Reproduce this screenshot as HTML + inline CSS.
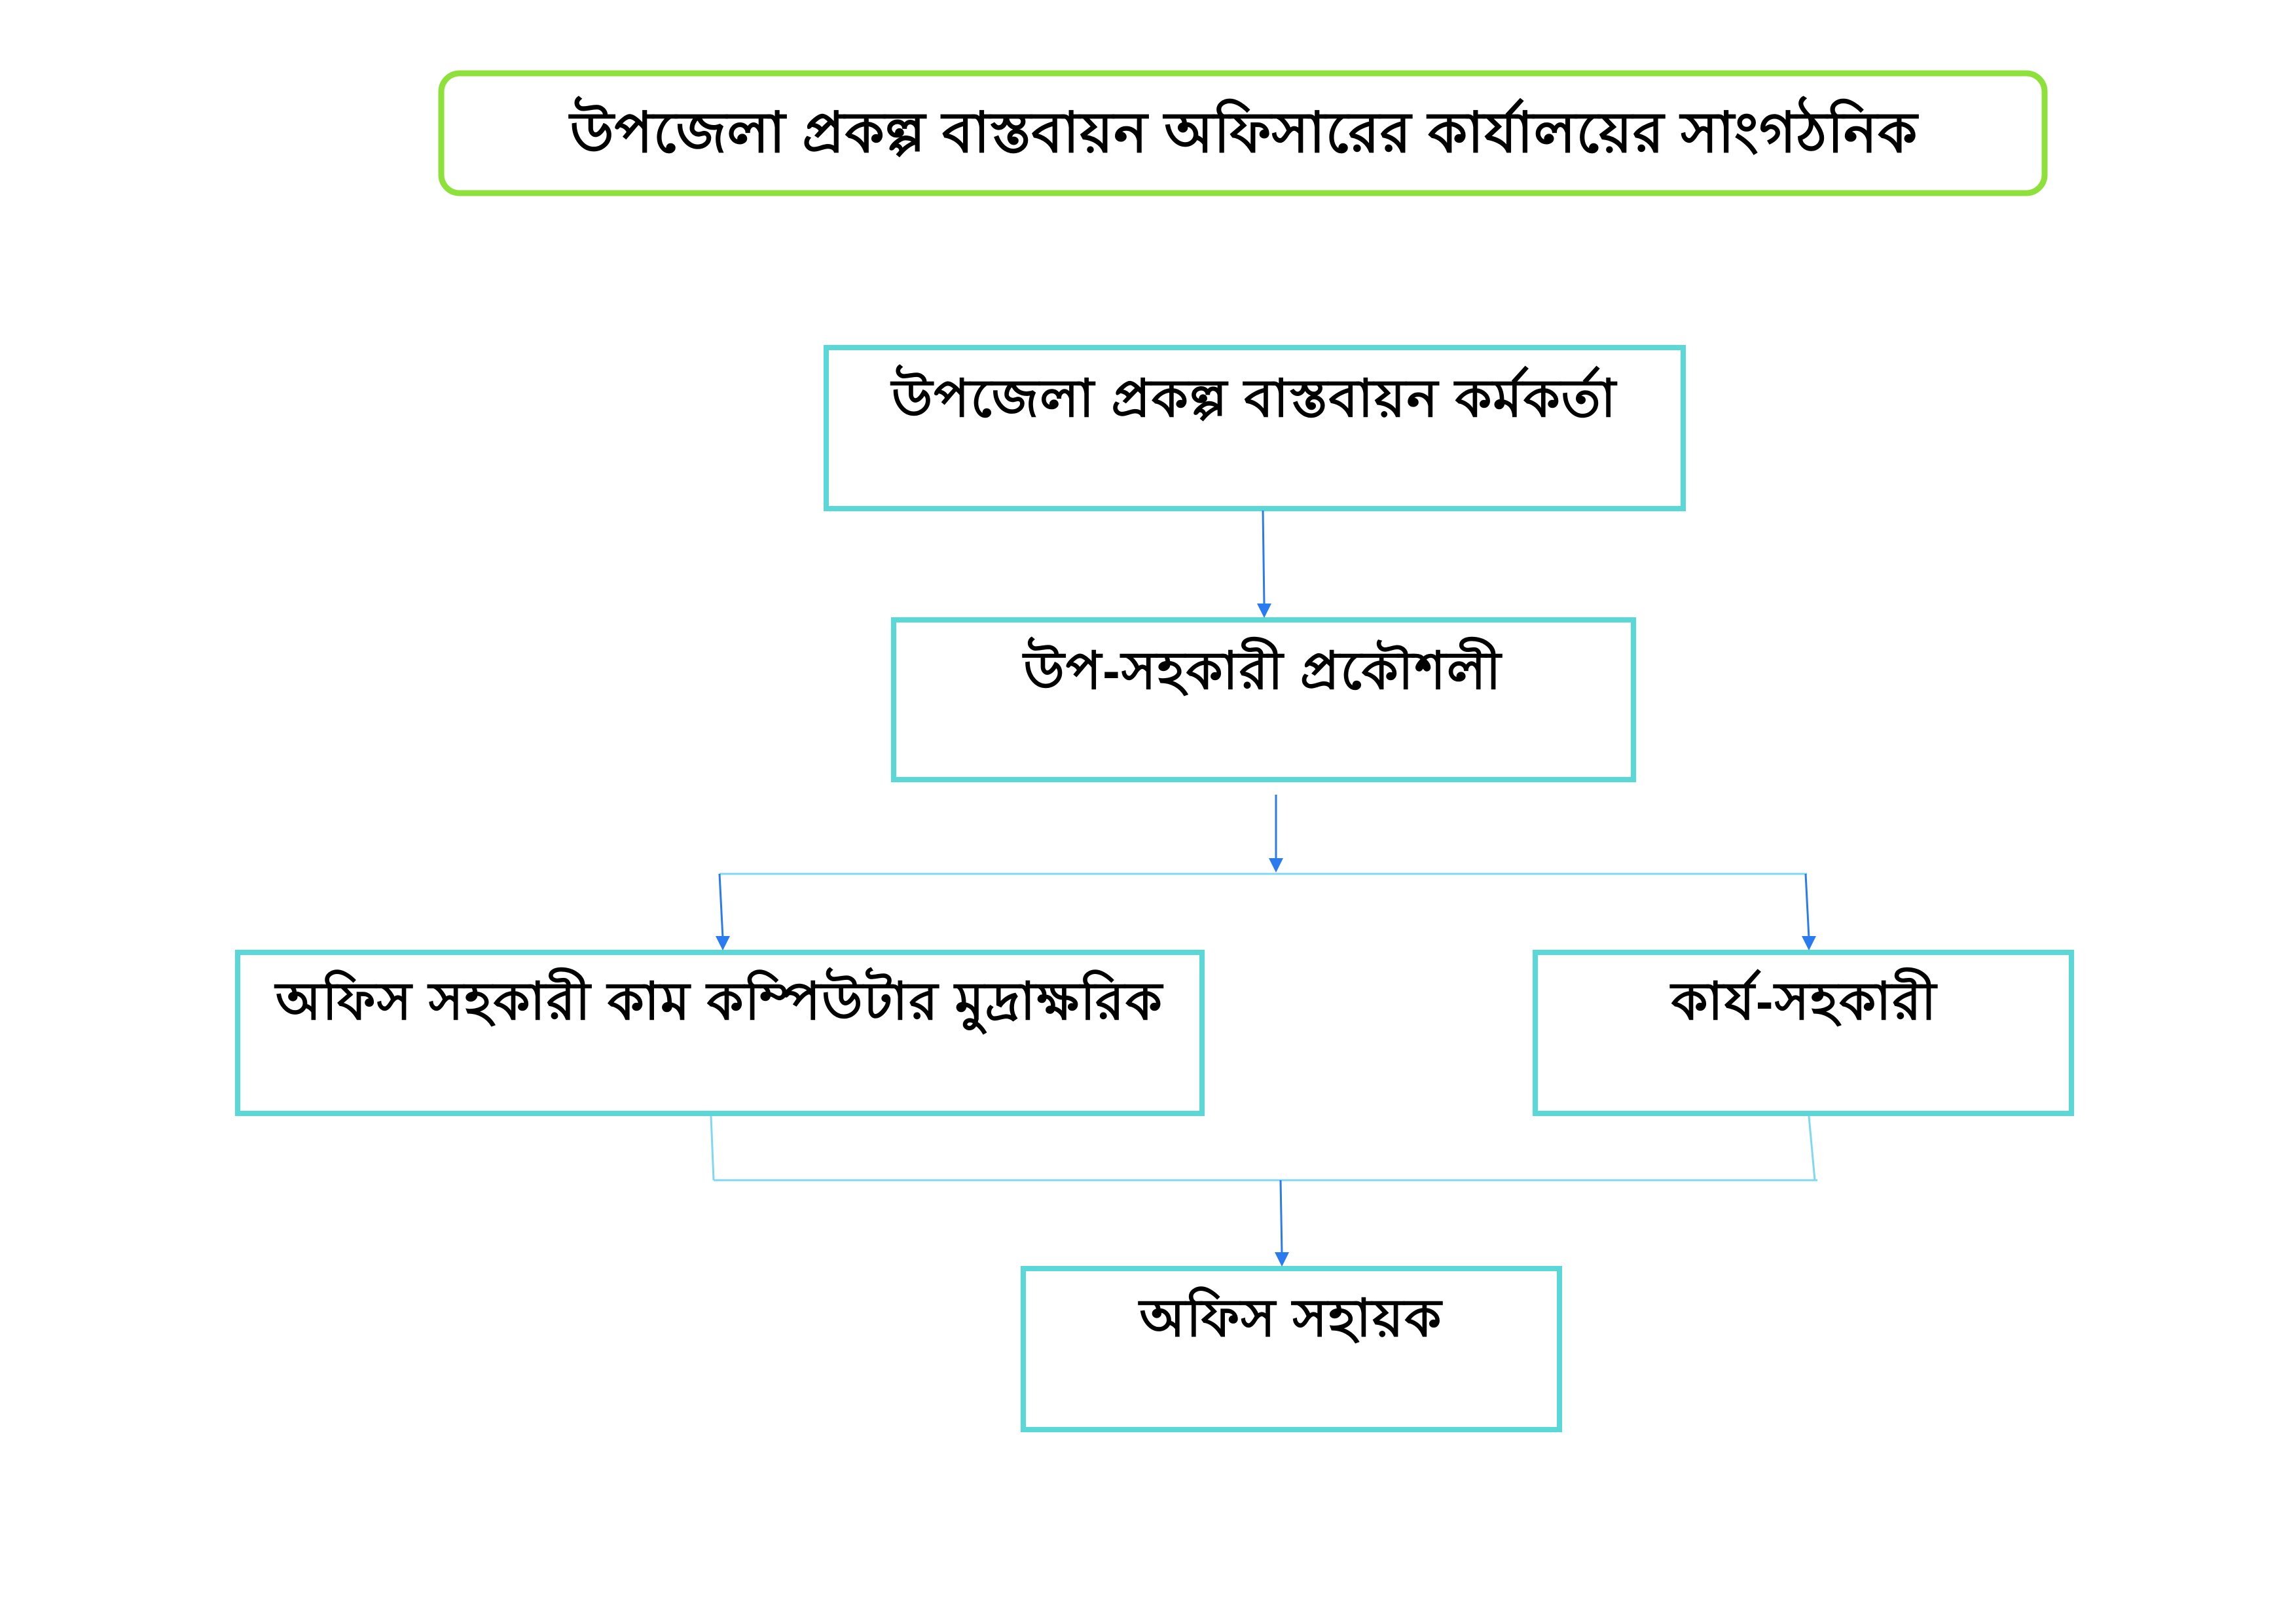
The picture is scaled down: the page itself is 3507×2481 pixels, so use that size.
<!DOCTYPE html>
<html>
<head>
<meta charset="utf-8">
<style>
html,body{margin:0;padding:0;background:#fff;}
svg{display:block;}
text{font-family:"Liberation Sans","Noto Sans CJK SC",sans-serif;fill:#000;font-weight:bold;}
</style>
</head>
<body>
<svg width="3507" height="2481" viewBox="0 0 3507 2481" xmlns="http://www.w3.org/2000/svg">
<rect width="3507" height="2481" fill="#fff"/>
<rect x="674" y="112" width="2449" height="183" rx="28" fill="#fff" stroke="#8ee03a" stroke-width="9"/>
<text x="1900" y="232" font-size="86" text-anchor="middle" letter-spacing="1">উপজেলা প্রকল্প বাস্তবায়ন অফিসারের কার্যালয়ের সাংগঠনিক</text>
<g fill="#fff" stroke="#5ad8d8" stroke-width="8">
<rect x="1262" y="531" width="1309" height="246"/>
<rect x="1365" y="947" width="1130" height="244"/>
<rect x="363" y="1455" width="1473" height="246"/>
<rect x="2345" y="1455" width="819" height="246"/>
<rect x="1563" y="1938" width="819" height="246"/>
</g>
<g font-size="80" text-anchor="middle" letter-spacing="2">
<text x="1916" y="636">উপজেলা প্রকল্প বাস্তবায়ন কর্মকর্তা</text>
<text x="1929" y="1052">উপ-সহকারী প্রকৌশলী</text>
<text x="1099" y="1557">অফিস সহকারী কাম কম্পিউটার মুদ্রাক্ষরিক</text>
<text x="2756" y="1557">কার্য-সহকারী</text>
<text x="1972" y="2041">অফিস সহায়ক</text>
</g>
<g stroke="#7fd8f0" stroke-width="3" fill="none">
<line x1="1099" y1="1335" x2="2760" y2="1335"/>
<line x1="1086" y1="1705" x2="1090" y2="1803"/>
<line x1="2763" y1="1705" x2="2772" y2="1803"/>
<line x1="1090" y1="1803" x2="2776" y2="1803"/>
</g>
<g stroke="#2a7bf0" stroke-width="3" fill="#2a7bf0">
<line x1="1929" y1="780" x2="1931" y2="925"/>
<polygon points="1920,922 1942,922 1931,944" stroke="none"/>
<line x1="1949" y1="1214" x2="1949" y2="1314"/>
<polygon points="1938,1311 1960,1311 1949,1333" stroke="none"/>
<line x1="1099" y1="1335" x2="1104" y2="1433"/>
<polygon points="1093,1430 1115,1430 1104,1452" stroke="none"/>
<line x1="2758" y1="1335" x2="2763" y2="1433"/>
<polygon points="2752,1430 2774,1430 2763,1452" stroke="none"/>
<line x1="1956" y1="1803" x2="1958" y2="1916"/>
<polygon points="1947,1913 1969,1913 1958,1935" stroke="none"/>
</g>
</svg>
</body>
</html>
